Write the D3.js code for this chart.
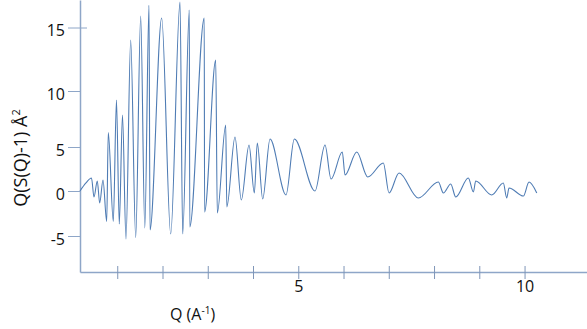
<!DOCTYPE html>
<html>
<head>
<meta charset="utf-8">
<script src="https://cdn.jsdelivr.net/npm/d3@7"></script>
<style>
  body { margin: 0; background: #fff; }
  text { font-family: 'Open Sans', 'Liberation Sans', sans-serif; }
</style>
</head>
<body>
<script>
const [w, h] = [587, 329];
const axis_color = '#8ea6c8';
const line_color = '#4f7cb4';

// Q (1/A) and Q(S(Q)-1) at the turning points
const q_values = [0.177, 0.309, 0.431, 0.486, 0.559, 0.612, 0.685, 0.767, 0.802, 0.913,
  0.983, 1.045, 1.116, 1.193, 1.297, 1.408, 1.518, 1.609, 1.702, 1.724,
  1.982, 2.181, 2.387, 2.446, 2.592, 2.603, 2.922, 2.930, 3.176, 3.211,
  3.397, 3.421, 3.602, 3.741, 3.912, 4.029, 4.095, 4.214, 4.376, 4.729,
  4.913, 5.370, 5.591, 5.724, 5.973, 6.033, 6.292, 6.535, 6.880, 7.006,
  7.227, 7.653, 8.095, 8.206, 8.369, 8.480, 8.758, 8.869, 8.921, 9.275,
  9.531, 9.606, 9.657, 9.974, 10.099, 10.270];
const s_values = [0, 0.91, 1.48, -0.67, 1.14, -1.33, 1.25, -3.39, 6.28, -3.39,
  9.2, -3.67, 7.86, -5.33, 14.02, -5.17, 15.91, -4.11, 16.77, -4.33,
  15.75, -4.78, 17.01, -4.78, 16.38, -4.0, 15.75, -2.33, 12.44, -2.44,
  6.96, -1.78, 5.89, -1.0, 5.18, -0.22, 5.36, -0.89, 5.71, -0.44,
  5.71, 0, 5.18, 1.36, 4.43, 1.82, 4.43, 1.59, 3.18, -0.22,
  2.05, -0.78, 1.02, -0.22, 0.80, -0.67, 1.48, -0.11, 1.14, -0.44,
  0.91, -0.78, 0.34, -0.56, 1.02, -0.22];

const x_ticks = [1, 2, 3, 4, 5, 6, 7, 8, 9, 10];
const x_labels = [5, 10];
const y_ticks = [-5, 0, 5, 10, 15];

const svg = d3.select('body')
  .append('svg')
  .attr('width', w)
  .attr('height', h);

const x = d3.scaleLinear().domain([0.177, 11.38]).range([80, 587]);
// the printed y axis is not evenly spaced, so the scale is piecewise
const y = d3.scaleLinear()
  .domain([-9, -5, 0, 5, 10, 15, 17.17])
  .range([272, 236, 191, 147, 91, 27.5, 0]);

const x_axis = svg.append('g')
  .attr('transform', 'translate(0, 272)')
  .call(d3.axisBottom(x)
    .tickValues(x_ticks)
    .tickSizeInner(7)
    .tickSizeOuter(0)
    .tickFormat(d => x_labels.includes(d) ? String(d) : ''));

x_axis.select('.domain').attr('stroke', axis_color).attr('stroke-width', 1.5);
x_axis.selectAll('.tick line').attr('stroke', '#7f96b8').attr('y1', -6);
x_axis.selectAll('.tick text')
  .attr('fill', '#111')
  .attr('font-size', 16)
  .attr('y', 9);

const y_axis = svg.append('g')
  .attr('transform', 'translate(80, 0)')
  .call(d3.axisLeft(y)
    .tickValues(y_ticks)
    .tickSize(12)
    .tickSizeOuter(0)
    .tickFormat(d => String(d)));

y_axis.select('.domain').attr('stroke', axis_color).attr('stroke-width', 1.5);
y_axis.selectAll('.tick line')
  .attr('stroke', axis_color)
  .attr('x1', d => d === 15 ? 7 : 0);
y_axis.selectAll('.tick text')
  .attr('fill', '#111')
  .attr('font-size', 16)
  .attr('transform', 'translate(0, 3)');

const line = d3.line()
  .x((d, i) => x(q_values[i]))
  .y(d => y(d))
  .curve(d3.curveMonotoneX);

svg.append('path')
  .datum(s_values)
  .attr('fill', 'none')
  .attr('stroke', line_color)
  .attr('stroke-width', 1.1)
  .attr('d', line);

// axis titles
const x_title = svg.append('text')
  .attr('x', 170)
  .attr('y', 320)
  .attr('font-size', 16)
  .attr('fill', '#111');
x_title.append('tspan').text('Q (A');
x_title.append('tspan').attr('dy', -6).attr('font-size', 10).text('-1');
x_title.append('tspan').attr('dy', 6).text(')');

const y_title = svg.append('text')
  .attr('transform', 'translate(27, 158) rotate(-90)')
  .attr('text-anchor', 'middle')
  .attr('font-size', 18)
  .attr('fill', '#111');
y_title.append('tspan').text('Q(S(Q)-1) Å');
y_title.append('tspan').attr('dy', -7).attr('font-size', 11).text('2');
</script>
</body>
</html>
